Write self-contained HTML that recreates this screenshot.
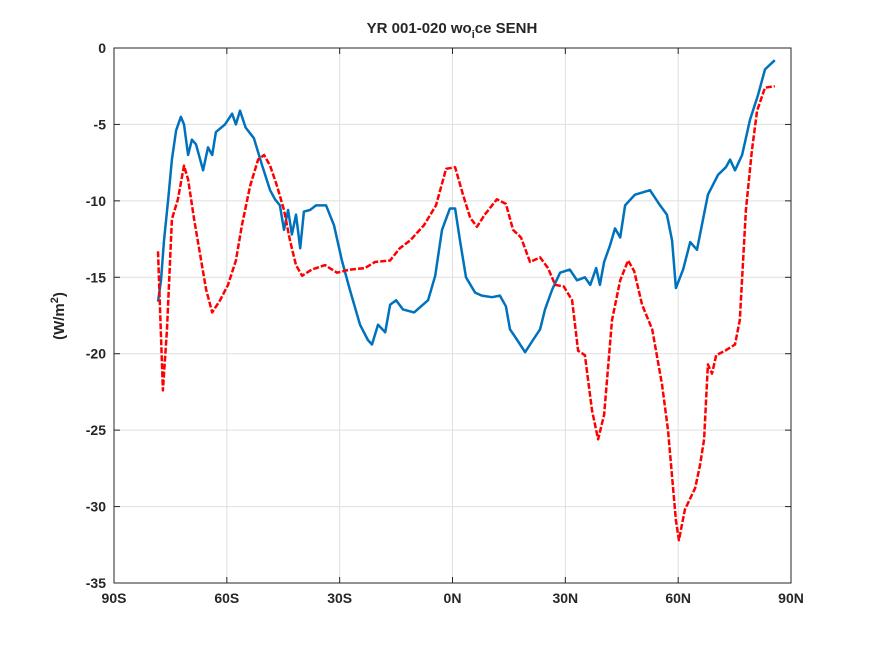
<!DOCTYPE html>
<html><head><meta charset="utf-8"><style>
body{margin:0;background:#fff;}
svg text{font-family:"Liberation Sans","DejaVu Sans",sans-serif;font-weight:bold;fill:#262626;}
</style></head><body>
<svg id="chart" width="875" height="656" xmlns="http://www.w3.org/2000/svg">
<rect width="875" height="656" fill="#fff"/>
<g id="grid"></g><g id="series"></g><g id="axes"></g>
<text x="452" y="33" text-anchor="middle" font-size="15">YR 001-020 wo<tspan font-size="11" dy="5">i</tspan><tspan dy="-5">ce SENH</tspan></text>
<text transform="translate(64,316) rotate(-90)" text-anchor="middle" font-size="15">(W/m<tspan font-size="11" dy="-6">2</tspan><tspan dy="6">)</tspan></text>
</svg>
<script>
const xTicks=[-90,-60,-30,0,30,60,90];
const xTickLabels=["90S","60S","30S","0N","30N","60N","90N"];
const yTicks=[0,-5,-10,-15,-20,-25,-30,-35];
const yTickLabels=["0","-5","-10","-15","-20","-25","-30","-35"];
const blueLat=[-78.3,-77.5,-76.7,-75.6,-74.6,-73.5,-72.2,-71.4,-70.3,-69.3,-68.2,-66.3,-65,-63.9,-62.9,-60.5,-58.6,-57.6,-56.5,-55,-52.8,-50.6,-48.5,-47.2,-45.9,-44.8,-43.7,-42.7,-41.6,-40.5,-39.5,-37.9,-36.3,-33.6,-31.5,-29.4,-27.3,-24.6,-22.5,-21.4,-19.8,-17.9,-16.6,-15,-13.2,-10.2,-6.5,-4.6,-2.8,-0.7,0.7,2,3.6,6,7.8,10.5,12.6,14.2,15.3,17.2,19.3,21.4,23.3,24.6,26.5,28.6,31.2,33.1,35.2,36.6,38.2,39.2,40.3,41.9,43.2,44.6,45.9,48.5,52.5,55.2,57,58.4,59.4,61.3,63.2,65,67.9,70.6,72.7,73.8,75.1,77,79.1,81.2,83.1,85.7];
const blueVal=[-16.6,-15.2,-12.6,-9.9,-7.3,-5.4,-4.5,-5.0,-7.0,-6.0,-6.3,-8.0,-6.5,-7.0,-5.5,-5.0,-4.3,-5.0,-4.1,-5.2,-5.9,-7.7,-9.3,-9.9,-10.3,-11.9,-10.6,-12.2,-10.9,-13.1,-10.7,-10.6,-10.3,-10.3,-11.6,-13.9,-15.8,-18.1,-19.1,-19.4,-18.1,-18.6,-16.8,-16.5,-17.1,-17.3,-16.5,-14.9,-11.9,-10.5,-10.5,-12.6,-15.0,-16.0,-16.2,-16.3,-16.2,-16.9,-18.4,-19.1,-19.9,-19.1,-18.4,-17.1,-15.8,-14.7,-14.5,-15.2,-15.0,-15.5,-14.4,-15.5,-14.0,-12.9,-11.8,-12.4,-10.3,-9.6,-9.3,-10.3,-10.9,-12.6,-15.7,-14.5,-12.7,-13.2,-9.6,-8.3,-7.8,-7.3,-8.0,-7.0,-4.7,-3.1,-1.4,-0.8];
const redLat=[-78.3,-77,-75.9,-74.6,-73,-71.4,-70.3,-68.7,-67.1,-65.5,-63.9,-61.8,-59.7,-57.6,-56,-53.8,-51.7,-50.1,-48.5,-46.7,-44.8,-43.2,-41.6,-40,-37.4,-33.9,-30.7,-27.3,-23.3,-20.6,-16.6,-14,-11.3,-7.6,-4.4,-1.7,0.7,2.8,4.7,6.5,8.6,11.8,14.2,16.1,18.2,20.6,23.3,25.4,27.3,29.6,31.8,33.4,35.2,37.1,38.7,40.3,42.4,44.6,46.7,48.3,50.4,53.1,55.7,57.3,59.4,60.2,61.8,64.5,65.8,66.9,67.9,69,70.1,72.5,75.1,76.4,78,79.6,81,83.1,85.7];
const redVal=[-13.3,-22.4,-18.4,-11.2,-9.9,-7.7,-8.6,-11.2,-13.5,-15.8,-17.3,-16.5,-15.5,-13.9,-11.6,-9.0,-7.3,-7.0,-7.7,-9.0,-10.6,-12.6,-14.2,-14.9,-14.5,-14.2,-14.7,-14.5,-14.4,-14.0,-13.9,-13.1,-12.6,-11.6,-10.3,-7.9,-7.8,-9.6,-11.1,-11.7,-10.9,-9.9,-10.2,-11.9,-12.4,-14.0,-13.7,-14.4,-15.5,-15.6,-16.5,-19.8,-20.1,-23.7,-25.6,-24.0,-17.8,-15.2,-13.9,-14.6,-16.8,-18.4,-22.0,-25.0,-30.9,-32.2,-30.2,-28.8,-27.3,-25.6,-20.7,-21.3,-20.1,-19.8,-19.4,-17.8,-10.6,-6.7,-4.1,-2.6,-2.5];
const L=114,R=791,T=48,B=583;
const xs=v=>L+(v+90)/180*(R-L);
const ys=v=>T+(0-v)/35*(B-T);
const NS="http://www.w3.org/2000/svg";
function mk(tag,attrs,parent){const e=document.createElementNS(NS,tag);for(const k in attrs)e.setAttribute(k,attrs[k]);parent.appendChild(e);return e;}
const grid=document.getElementById('grid'),axes=document.getElementById('axes'),ser=document.getElementById('series');
xTicks.forEach((t,i)=>{const x=xs(t);
 const g=mk('line',{x1:x,x2:x,y1:T,y2:B,stroke:'#dfdfdf','stroke-width':1},grid);
 
 
 mk('line',{x1:x,x2:x,y1:B,y2:B-6,stroke:'#262626'},axes);
 mk('line',{x1:x,x2:x,y1:T,y2:T+6,stroke:'#262626'},axes);
 const tx=mk('text',{x:x,y:B+20,'text-anchor':'middle','font-size':14},axes);tx.textContent=xTickLabels[i];
 
 
});
yTicks.forEach((t,i)=>{const y=ys(t);
 const g=mk('line',{x1:L,x2:R,y1:y,y2:y,stroke:'#dfdfdf','stroke-width':1},grid);
 
 
 mk('line',{x1:L,x2:L+6,y1:y,y2:y,stroke:'#262626'},axes);
 mk('line',{x1:R,x2:R-6,y1:y,y2:y,stroke:'#262626'},axes);
 const tx=mk('text',{x:L-8,y:y+5,'text-anchor':'end','font-size':14},axes);tx.textContent=yTickLabels[i];
 
 
});
const box=mk('rect',{x:L,y:T,width:R-L,height:B-T,fill:'none',stroke:'#262626','stroke-width':1},axes);


function line(lat,val,attrs){return mk('polyline',Object.assign({points:lat.map((a,i)=>xs(a).toFixed(1)+','+ys(val[i]).toFixed(1)).join(' '),fill:'none','stroke-linejoin':'round'},attrs),ser);}
const b=line(blueLat,blueVal,{stroke:'#0072bd','stroke-width':2.5});


const r=line(redLat,redVal,{stroke:'#ff0000','stroke-width':2.5,'stroke-dasharray':'6,2'});


</script>
</body></html>
